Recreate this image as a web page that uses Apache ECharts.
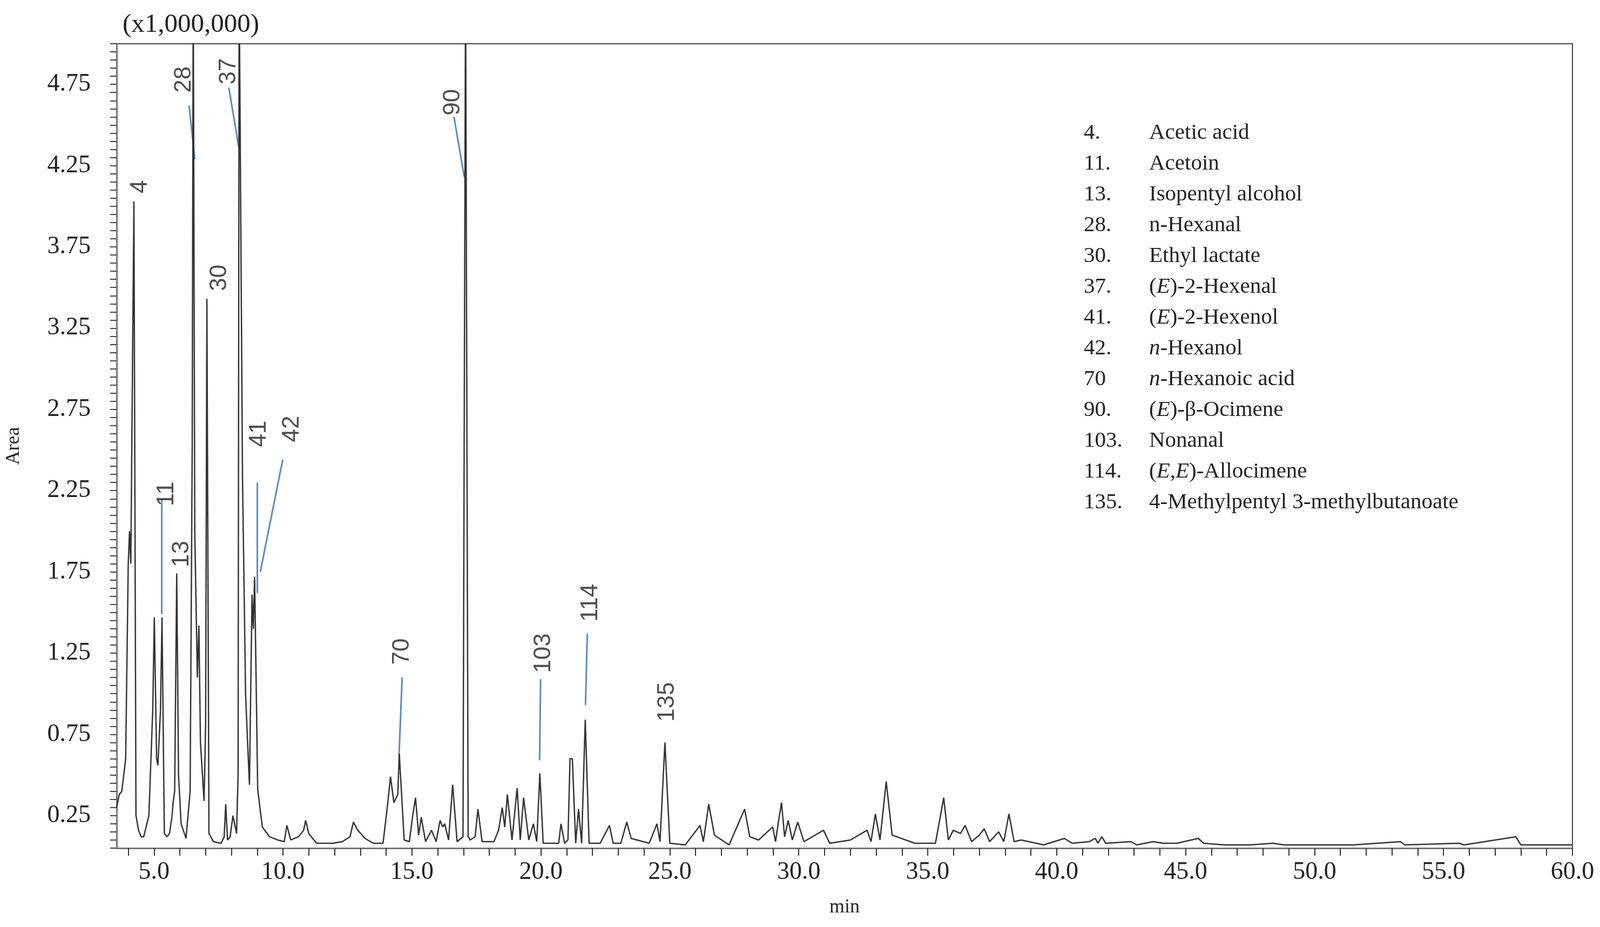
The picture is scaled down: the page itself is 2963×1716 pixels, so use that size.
<!DOCTYPE html>
<html><head><meta charset="utf-8">
<script src="https://cdn.jsdelivr.net/npm/echarts@6/dist/echarts.min.js"></script>
<style>html,body{margin:0;padding:0;background:#fff}#c{width:2963px;height:1716px}</style>
</head><body><div id="c"></div>
<script>
// Chromatogram trace (retention time in min, area in 1e6)
const times = [3.55,3.65,3.75,3.9,4.0,4.05,4.1,4.22,4.3,4.4,4.5,4.6,4.8,4.95,5.01,5.1,5.15,5.25,5.31,5.4,5.5,5.6,5.7,5.74,5.8,5.88,5.95,6.05,6.24,6.4,6.48,6.52,6.58,6.68,6.74,6.8,6.94,7.0,7.05,7.13,7.3,7.6,7.72,7.78,7.85,7.95,8.06,8.2,8.26,8.3,8.36,8.43,8.55,8.63,8.7,8.8,8.85,8.9,9.02,9.2,9.48,9.8,10.05,10.15,10.3,10.6,10.8,10.88,11.0,11.3,11.6,11.93,12.3,12.6,12.73,12.9,13.18,13.5,13.88,14.05,14.17,14.3,14.45,14.51,14.7,14.9,15.03,15.14,15.26,15.36,15.53,15.76,15.94,16.09,16.2,16.27,16.42,16.58,16.75,16.98,17.08,17.18,17.26,17.45,17.56,17.72,18.18,18.36,18.5,18.6,18.7,18.88,19.08,19.2,19.33,19.53,19.71,19.84,19.96,20.09,20.4,20.69,20.78,20.92,21.05,21.13,21.22,21.35,21.46,21.58,21.72,21.87,22.3,22.66,22.8,23.1,23.33,23.5,24.2,24.5,24.62,24.81,25.0,25.6,26.17,26.3,26.51,26.73,27.3,27.9,28.1,28.44,28.99,29.1,29.21,29.33,29.45,29.59,29.75,29.96,30.2,30.96,31.2,32.0,32.65,32.8,32.97,33.15,33.39,33.62,34.5,35.3,35.62,35.8,35.99,36.27,36.45,36.7,37.0,37.19,37.4,37.75,37.95,38.15,38.35,38.63,39.5,40.3,40.6,41.27,41.5,41.6,41.75,41.9,42.88,43.1,43.75,44.13,44.66,45.49,45.7,46.5,47.5,48.4,48.8,50.2,51.5,53.33,53.5,55.6,55.8,57.8,58.0,59.0,60.0];
const areas = [0.30,0.38,0.40,0.6,1.8,2.0,1.8,4.03,0.25,0.16,0.12,0.12,0.25,0.9,1.47,0.6,0.56,0.9,1.47,0.14,0.12,0.14,0.25,0.33,0.4,1.74,0.5,0.2,0.11,0.4,2.5,5.4,2.0,1.1,1.42,0.7,0.34,0.8,3.43,0.14,0.09,0.08,0.12,0.32,0.1,0.12,0.25,0.14,0.5,5.4,4.0,2.34,1.0,0.69,0.44,1.61,1.4,1.72,0.41,0.18,0.12,0.1,0.09,0.19,0.1,0.12,0.16,0.22,0.14,0.08,0.08,0.08,0.09,0.12,0.21,0.16,0.11,0.08,0.08,0.31,0.49,0.33,0.38,0.63,0.1,0.09,0.25,0.36,0.13,0.24,0.09,0.16,0.09,0.22,0.18,0.2,0.1,0.44,0.09,0.12,5.4,0.12,0.1,0.12,0.29,0.09,0.09,0.16,0.3,0.18,0.38,0.1,0.42,0.1,0.36,0.1,0.2,0.09,0.51,0.08,0.08,0.08,0.2,0.08,0.1,0.6,0.6,0.08,0.29,0.08,0.84,0.08,0.08,0.19,0.08,0.08,0.21,0.11,0.08,0.2,0.09,0.7,0.08,0.07,0.19,0.09,0.32,0.13,0.07,0.29,0.12,0.1,0.18,0.09,0.21,0.33,0.12,0.22,0.1,0.21,0.09,0.16,0.08,0.1,0.16,0.09,0.26,0.1,0.46,0.13,0.08,0.08,0.36,0.1,0.16,0.14,0.19,0.09,0.13,0.17,0.09,0.15,0.09,0.26,0.09,0.1,0.07,0.11,0.08,0.09,0.11,0.08,0.12,0.08,0.09,0.07,0.09,0.08,0.08,0.11,0.08,0.07,0.07,0.08,0.07,0.07,0.07,0.09,0.07,0.08,0.07,0.12,0.07,0.07,0.07];

// Peak number labels [t, area]
const peakIds   = ['4','11','13','28','37','30','41','42','70','90','103','114','135'];
const peakLabT  = [4.46,5.49,6.08,6.16,7.9,7.54,9.08,10.35,14.62,16.59,20.11,21.93,24.9];
const peakLabV  = [4.12,2.23,1.86,4.78,4.83,3.56,2.6,2.63,1.26,4.64,1.25,1.56,0.95];
// Leader lines [t1,v1,t2,v2]
const leaders = [[5.3,2.19,5.3,1.49],[6.36,4.62,6.58,4.29],[7.9,4.73,8.29,4.36],[9.0,2.3,9.0,1.62],[9.99,2.44,9.12,1.75],[14.62,1.1,14.5,0.62],[16.63,4.55,17.03,4.18],[19.99,1.09,19.95,0.59],[21.8,1.37,21.73,0.93]];

const legendNums  = ['4.','11.','13.','28.','30.','37.','41.','42.','70','90.','103.','114.','135.'];
const legendNames = ['Acetic acid','Acetoin','Isopentyl alcohol','n-Hexanal','Ethyl lactate','({i|E})-2-Hexenal','({i|E})-2-Hexenol','{i|n}-Hexanol','{i|n}-Hexanoic acid','({i|E})-β-Ocimene','Nonanal','({i|E},{i|E})-Allocimene','4-Methylpentyl 3-methylbutanoate'];

const xTicks=[]; for(let i=4;i<=60;i++) xTicks.push(i);
const xLabels=[5,10,15,20,25,30,35,40,45,50,55,60];
const yTicks=[]; for(let i=1;i<=100;i++) yTicks.push(+(i*0.05).toFixed(2));
const yLabels=[0.25,0.75,1.25,1.75,2.25,2.75,3.25,3.75,4.25,4.75];

const F='"Liberation Serif","DejaVu Serif",serif';
const chart=echarts.init(document.getElementById('c'));
const legendGraphics=[];
legendNums.forEach((n,i)=>{
  legendGraphics.push({type:'text',left:2007,top:226+i*57,style:{text:n,font:'41px '+F,fill:'#222'}});
  legendGraphics.push({type:'text',left:2128,top:226+i*57,style:{text:legendNames[i],font:'41px '+F,fill:'#222',
    rich:{i:{fontStyle:'italic',fontFamily:F,fontSize:41,fill:'#222'}}}});
});
chart.setOption({
  animation:false,
  grid:{left:212,right:51,top:81,bottom:146,show:true,borderColor:'#444',borderWidth:2},
  xAxis:{type:'value',min:3.55,max:60,name:'min',nameLocation:'middle',nameGap:92,
    nameTextStyle:{fontFamily:F,fontSize:36,color:'#222'},
    axisLine:{lineStyle:{color:'#777',width:3}},splitLine:{show:false},
    axisTick:{customValues:xTicks,length:14,lineStyle:{color:'#333',width:2}},
    axisLabel:{customValues:xLabels,formatter:v=>v.toFixed(1),fontFamily:F,fontSize:46,color:'#222',margin:22}},
  yAxis:{type:'value',min:0.05,max:5.0,name:'Area',nameLocation:'middle',nameGap:172,
    nameTextStyle:{fontFamily:F,fontSize:36,color:'#222'},
    axisLine:{show:true,lineStyle:{color:'#777',width:3}},splitLine:{show:false},
    axisTick:{customValues:yTicks,length:12,lineStyle:{color:'#444',width:2}},
    axisLabel:{customValues:yLabels,formatter:v=>v.toFixed(2),fontFamily:F,fontSize:46,color:'#222',margin:48}},
  graphic:[{type:'text',left:227,top:22,style:{text:'(x1,000,000)',font:'49px '+F,fill:'#222'}}].concat(legendGraphics),
  series:[
    {type:'line',data:times.map((t,i)=>[t,areas[i]]),symbol:'none',clip:true,
      lineStyle:{color:'#333',width:2.5}},
    {type:'lines',coordinateSystem:'cartesian2d',polyline:false,
      data:leaders.map(l=>({coords:[[l[0],l[1]],[l[2],l[3]]]})),
      lineStyle:{color:'#5b8cc4',width:3,opacity:1}},
    {type:'scatter',symbolSize:0,data:peakIds.map((p,i)=>[peakLabT[i],peakLabV[i],p]),
      label:{show:true,position:'inside',rotate:90,formatter:p=>p.data[2],fontFamily:'"Liberation Sans",Arial,sans-serif',fontSize:44,color:'#222'}}
  ]
});
</script></body></html>
